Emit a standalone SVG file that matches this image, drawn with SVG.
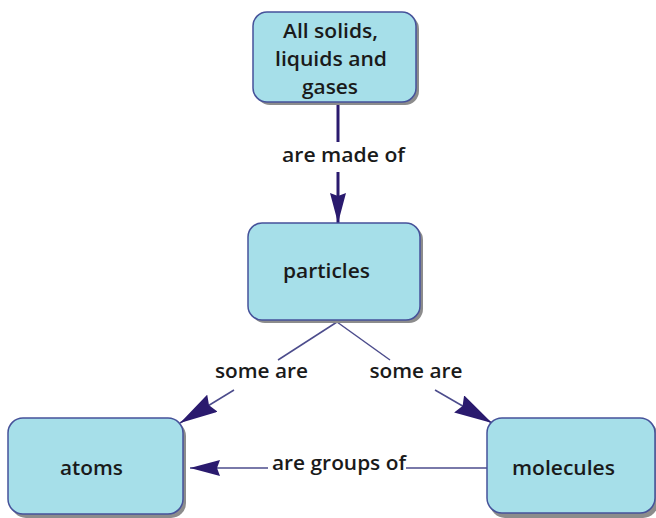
<svg xmlns="http://www.w3.org/2000/svg" width="656" height="518" viewBox="0 0 656 518">
<defs>
<marker id="ah" viewBox="0 0 38 20" refX="38" refY="10" markerWidth="38" markerHeight="20" markerUnits="userSpaceOnUse" orient="auto">
<path d="M0,0 L38,10 L0,20 L4,10 Z" fill="#2a1a6e"/>
</marker>
<marker id="ahv" viewBox="0 0 30 16" refX="30" refY="8" markerWidth="30" markerHeight="16" markerUnits="userSpaceOnUse" orient="auto">
<path d="M0,0 L30,8 L0,16 L3,8 Z" fill="#2a1a6e"/>
</marker>
<style>
.box{fill:#a6dfe9;stroke:#46529a;stroke-width:1.5}
.sh{fill:#8c8c8c}
.t{font-family:"Open Sans","Liberation Sans",sans-serif;font-size:20px;font-weight:600;fill:#1a1a1a;text-anchor:middle}
.c{stroke:#2a1a6e;stroke-width:3;fill:none}
.thin{stroke:#4c4c8c;stroke-width:1.5;fill:none}
</style>
</defs>
<rect width="656" height="518" fill="#ffffff"/>
<g id="connectors">
<line class="c" x1="338" y1="103" x2="338" y2="142"/>
<line class="c" x1="338" y1="172" x2="338" y2="223" marker-end="url(#ahv)"/>
<line class="thin" x1="337" y1="322" x2="278" y2="360"/>
<line class="thin" x1="337" y1="322" x2="390" y2="360"/>
<line class="thin" x1="234" y1="390" x2="180" y2="423" marker-end="url(#ah)"/>
<line class="thin" x1="435" y1="390" x2="492" y2="423" marker-end="url(#ah)"/>
<line class="thin" x1="487" y1="468" x2="406" y2="468"/>
<line class="thin" x1="268" y1="468" x2="190" y2="468" marker-end="url(#ahv)"/>
<text class="t" x="343.5" y="162" textLength="123" lengthAdjust="spacingAndGlyphs">are made of</text>
<text class="t" x="261.5" y="378" textLength="93" lengthAdjust="spacingAndGlyphs">some are</text>
<text class="t" x="416" y="378" textLength="93" lengthAdjust="spacingAndGlyphs">some are</text>
<text class="t" x="339" y="470" textLength="134" lengthAdjust="spacingAndGlyphs">are groups of</text>
</g>
<g id="n1">
<rect class="sh" x="256" y="15" width="163" height="90" rx="14"/>
<rect class="box" x="253" y="12" width="163" height="90" rx="14"/>
<text class="t" x="330.5" y="38" textLength="95" lengthAdjust="spacingAndGlyphs">All solids,</text>
<text class="t" x="331" y="66" textLength="112" lengthAdjust="spacingAndGlyphs">liquids and</text>
<text class="t" x="330" y="94" textLength="56" lengthAdjust="spacingAndGlyphs">gases</text>
</g>
<g id="n2">
<rect class="sh" x="251" y="226" width="172" height="97" rx="14"/>
<rect class="box" x="248" y="223" width="172" height="97" rx="14"/>
<text class="t" x="326.5" y="278" textLength="87" lengthAdjust="spacingAndGlyphs">particles</text>
</g>
<g id="n3">
<rect class="sh" x="11" y="421" width="175" height="97" rx="15"/>
<rect class="box" x="8" y="418" width="175" height="96" rx="15"/>
<text class="t" x="91.5" y="475" textLength="63" lengthAdjust="spacingAndGlyphs">atoms</text>
</g>
<g id="n4">
<rect class="sh" x="490" y="421" width="168" height="97" rx="15"/>
<rect class="box" x="487" y="418" width="168" height="95" rx="15"/>
<text class="t" x="563.5" y="475" textLength="103" lengthAdjust="spacingAndGlyphs">molecules</text>
</g>
</svg>
